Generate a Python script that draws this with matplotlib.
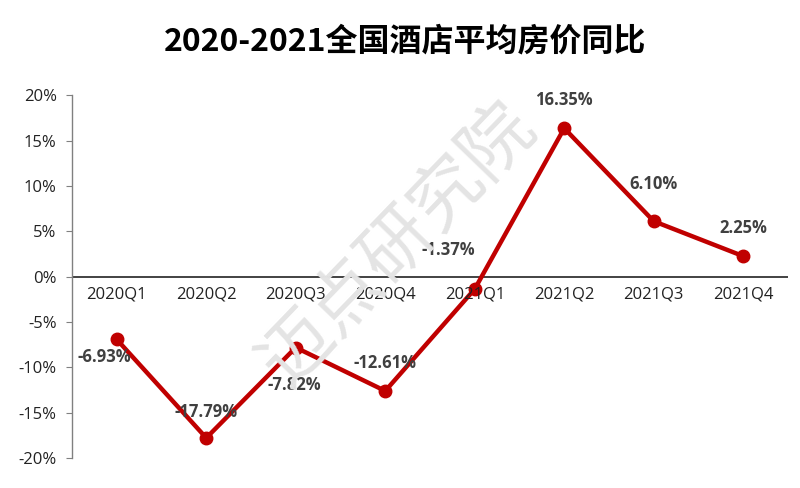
import matplotlib
matplotlib.use("Agg")
import matplotlib.pyplot as plt
from matplotlib.ticker import FuncFormatter

plt.rcParams['font.family'] = ['Open Sans', 'Noto Sans CJK SC', 'DejaVu Sans']

quarters = ["2020Q1", "2020Q2", "2020Q3", "2020Q4",
            "2021Q1", "2021Q2", "2021Q3", "2021Q4"]
yoy = [-6.93, -17.79, -7.82, -12.61, -1.37, 16.35, 6.10, 2.25]
label_text = ["-6.93%", "-17.79%", "-7.82%", "-12.61%",
              "-1.37%", "16.35%", "6.10%", "2.25%"]

# label offsets in points (dx, dy) for each point
offsets = [(-9, -13), (0, 19), (-1, -27), (0, 20),
           (-19, 28), (0, 20), (0, 27), (0, 20)]

fig = plt.figure(figsize=(8, 4.88), dpi=100)
ax = fig.add_axes([0.09, 0.0615, 0.895, 0.7435])
ax.patch.set_alpha(0)

# watermark
fig.text(0.497, 0.50, "迈点研究院", fontsize=52, color="#e4e4e4",
         rotation=46, ha="center", va="center", zorder=0,
         family="Noto Sans CJK SC")

x = list(range(len(quarters)))
ax.plot(x, yoy, color="#C00000", lw=3.2, marker="o", ms=9,
        solid_joinstyle="round", zorder=3)

for i in x:
    ax.annotate(label_text[i], (i, yoy[i]), xytext=offsets[i],
                textcoords="offset points", ha="center", va="center",
                fontsize=12, fontweight="bold", color="#404040", zorder=4)

ax.set_xlim(-0.5, 7.5)
ax.set_ylim(-20, 20)
ax.set_yticks(range(-20, 21, 5))
ax.yaxis.set_major_formatter(FuncFormatter(lambda v, p: f"{v:.0f}%"))
ax.tick_params(axis="y", length=4, color="#808080", labelsize=12,
               labelcolor="#222222", pad=7)

ax.set_xticks([])
ax.axhline(0, color="#222222", lw=1.2, zorder=2)
for i, q in enumerate(quarters):
    ax.text(i, -1.1, q, ha="center", va="top", fontsize=12, color="#222222")

for s in ["top", "right", "bottom"]:
    ax.spines[s].set_visible(False)
ax.spines["left"].set_color("#808080")
ax.spines["left"].set_linewidth(1)

fig.text(0.507, 0.915, "2020-2021全国酒店平均房价同比", ha="center", va="center",
         fontsize=23, fontweight="bold", color="black",
         family="Noto Sans CJK SC")

fig.savefig("out.png", dpi=100)
